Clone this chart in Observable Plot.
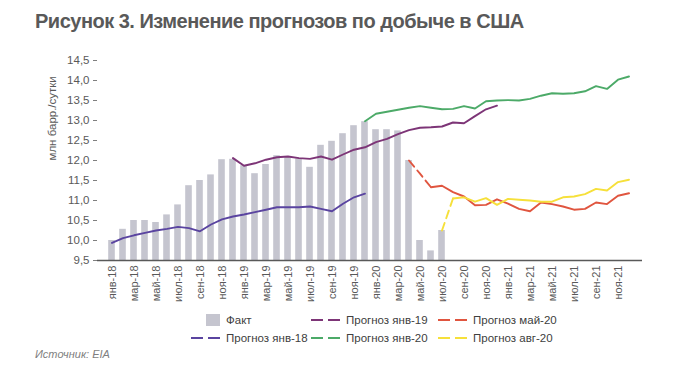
<!DOCTYPE html>
<html><head><meta charset="utf-8">
<script src="https://cdn.jsdelivr.net/npm/d3@7"></script>
<script src="https://cdn.jsdelivr.net/npm/@observablehq/plot@0.6"></script>
<style>
body{margin:0;background:#fff;font-family:"Liberation Sans",Arial,sans-serif;}
#wrap{position:relative;width:700px;height:379px;overflow:hidden;background:#fff;}
#title{position:absolute;left:35px;top:10px;font-size:20px;font-weight:bold;color:#595959;letter-spacing:-0.5px;}
#chart{position:absolute;left:0;top:0;}
.lg{position:absolute;font-size:11.5px;color:#404040;display:flex;align-items:center;white-space:nowrap;height:14px;}
.lg svg{margin-right:6px;}
#source{position:absolute;left:35px;top:348px;font-size:11px;font-style:italic;color:#7f7f7f;}
</style></head>
<body>
<div id="wrap">
  <div id="title">Рисунок 3. Изменение прогнозов по добыче в США</div>
  <div id="chart"></div>
  <div id="legend"></div>
  <div id="source">Источник: EIA</div>
</div>
<script>
const monthNames = ["янв","фев","мар","апр","май","июн","июл","авг","сен","окт","ноя","дек"];
const years = ["18","19","20","21"];
const months = years.flatMap(y => monthNames.map(m => `${m}-${y}`));
const tickLabels = months.filter((d, i) => i % 2 === 0);
const yTicks = [9.5, 10, 10.5, 11, 11.5, 12, 12.5, 13, 13.5, 14, 14.5];

// Факт (янв-18 … июл-20)
const factStart = "янв-18";
const fact = [10.0, 10.28, 10.5, 10.5, 10.45, 10.64, 10.89, 11.37, 11.5, 11.64, 12.02, 12.03,
              11.87, 11.67, 11.9, 12.12, 12.1, 12.04, 11.83, 12.38, 12.48, 12.67, 12.87, 12.97,
              12.77, 12.77, 12.74, 12.0, 10.0, 9.74, 10.25];

// Прогноз янв-18 (янв-18 … дек-19)
const f18Start = "янв-18";
const f18 = [9.94, 10.06, 10.13, 10.19, 10.25, 10.29, 10.34, 10.31, 10.23, 10.40, 10.53, 10.60,
             10.65, 10.71, 10.77, 10.83, 10.83, 10.83, 10.85, 10.79, 10.73, 10.92, 11.08, 11.17];

// Прогноз янв-19 (дек-18 … дек-20)
const f19Start = "дек-18";
const f19 = [12.06, 11.87, 11.93, 12.02, 12.08, 12.10, 12.06, 12.04, 12.10, 12.02, 12.15, 12.27,
             12.33, 12.46, 12.54, 12.66, 12.76, 12.82, 12.83, 12.85, 12.95, 12.93, 13.11, 13.28, 13.37];

// Прогноз янв-20 (дек-19 … дек-21)
const f20Start = "дек-19";
const f20 = [12.98, 13.17, 13.22, 13.27, 13.32, 13.36, 13.32, 13.28, 13.29, 13.36, 13.30, 13.48,
             13.50, 13.51, 13.50, 13.54, 13.62, 13.68, 13.67, 13.68, 13.73, 13.86, 13.79, 14.02, 14.10];

// Прогноз май-20 (апр-20 … дек-21)
const fMayStart = "апр-20";
const fMay = [12.00, 11.67, 11.33, 11.37, 11.21, 11.10, 10.88, 10.89, 11.03, 10.92, 10.79, 10.73,
              10.95, 10.91, 10.85, 10.77, 10.79, 10.95, 10.91, 11.12, 11.18];

// Прогноз авг-20 (июл-20 … дек-21)
const fAugStart = "июл-20";
const fAug = [10.25, 11.05, 11.08, 10.97, 11.06, 10.89, 11.04, 11.02, 11.00, 10.97, 10.97, 11.08,
              11.10, 11.16, 11.29, 11.25, 11.46, 11.52];

const colors = {
  fact: "#c5c5cf",
  f18: "#5a44a0",
  f19: "#7d3577",
  f20: "#4caa68",
  fMay: "#e0553f",
  fAug: "#f6e03a"
};

const rows = (vals, start) => {
  const s = months.indexOf(start);
  return vals.map((v, i) => ({m: months[s + i], v}));
};
const factRows = rows(fact, factStart);
const r18 = rows(f18, f18Start);
const r19 = rows(f19, f19Start);
const r20 = rows(f20, f20Start);
const rMay = rows(fMay, fMayStart);
const rAug = rows(fAug, fAugStart);

const lw = 1.9;
const fmt = d => d.toFixed(1).replace(".", ",");

const chart = Plot.plot({
  width: 700, height: 310,
  marginTop: 60, marginLeft: 97, marginRight: 58, marginBottom: 50,
  style: {fontFamily: "'Liberation Sans', Arial, sans-serif", fontSize: "11px", color: "#595959", background: "transparent"},
  x: {domain: months, padding: 0, axis: null},
  y: {domain: [9.5, 14.5], axis: null},
  marks: [
    Plot.barY(factRows, {x: "m", y: "v", fill: colors.fact, insetLeft: 2.2, insetRight: 2.2, clip: true}),
    Plot.line(r18, {x: "m", y: "v", stroke: colors.f18, strokeWidth: lw}),
    Plot.line(r19, {x: "m", y: "v", stroke: colors.f19, strokeWidth: lw}),
    Plot.line(r20, {x: "m", y: "v", stroke: colors.f20, strokeWidth: lw}),
    Plot.line(rMay.slice(0, 3), {x: "m", y: "v", stroke: colors.fMay, strokeWidth: lw, strokeDasharray: "8,5"}),
    Plot.line(rMay.slice(2), {x: "m", y: "v", stroke: colors.fMay, strokeWidth: lw}),
    Plot.line(rAug.slice(0, 2), {x: "m", y: "v", stroke: colors.fAug, strokeWidth: lw, strokeDasharray: "8,5"}),
    Plot.line(rAug.slice(1), {x: "m", y: "v", stroke: colors.fAug, strokeWidth: lw}),
    Plot.ruleY([yTicks[0]], {stroke: "#595959", strokeWidth: 1.3}),
    Plot.axisY({ticks: yTicks, tickFormat: fmt, tickSize: 4, tickPadding: 4, line: true, stroke: "#7f7f7f", fill: "#595959", fontSize: 11.5, label: null}),
    Plot.axisX({ticks: tickLabels, tickRotate: -90, tickSize: 0, tickPadding: 5, fill: "#595959", fontSize: 11, label: null}),
    Plot.text(["млн барр./сутки"], {frameAnchor: "left", rotate: -90, dx: -45, fill: "#595959", fontSize: 11.5})
  ]
});
document.getElementById("chart").appendChild(chart);

// legend
const legendItems = [
  {label: "Факт", color: colors.fact, type: "box", left: 206, top: 313},
  {label: "Прогноз янв-19", color: colors.f19, type: "dash", left: 311, top: 313},
  {label: "Прогноз май-20", color: colors.fMay, type: "dash", left: 438, top: 313},
  {label: "Прогноз янв-18", color: colors.f18, type: "dash", left: 191, top: 331},
  {label: "Прогноз янв-20", color: colors.f20, type: "dash", left: 311, top: 331},
  {label: "Прогноз авг-20", color: colors.fAug, type: "dash", left: 438, top: 331}
];
const lg = document.getElementById("legend");
for (const it of legendItems) {
  const d = document.createElement("div");
  d.className = "lg";
  d.style.left = it.left + "px";
  d.style.top = it.top + "px";
  const sw = it.type === "box"
    ? `<svg width="14" height="12"><rect x="0" y="0" width="14" height="12" fill="${it.color}"/></svg>`
    : `<svg width="29" height="12"><line x1="0" x2="29" y1="6" y2="6" stroke="${it.color}" stroke-width="2" stroke-dasharray="12,5"/></svg>`;
  d.innerHTML = sw + `<span>${it.label}</span>`;
  lg.appendChild(d);
}
</script>
</body></html>
